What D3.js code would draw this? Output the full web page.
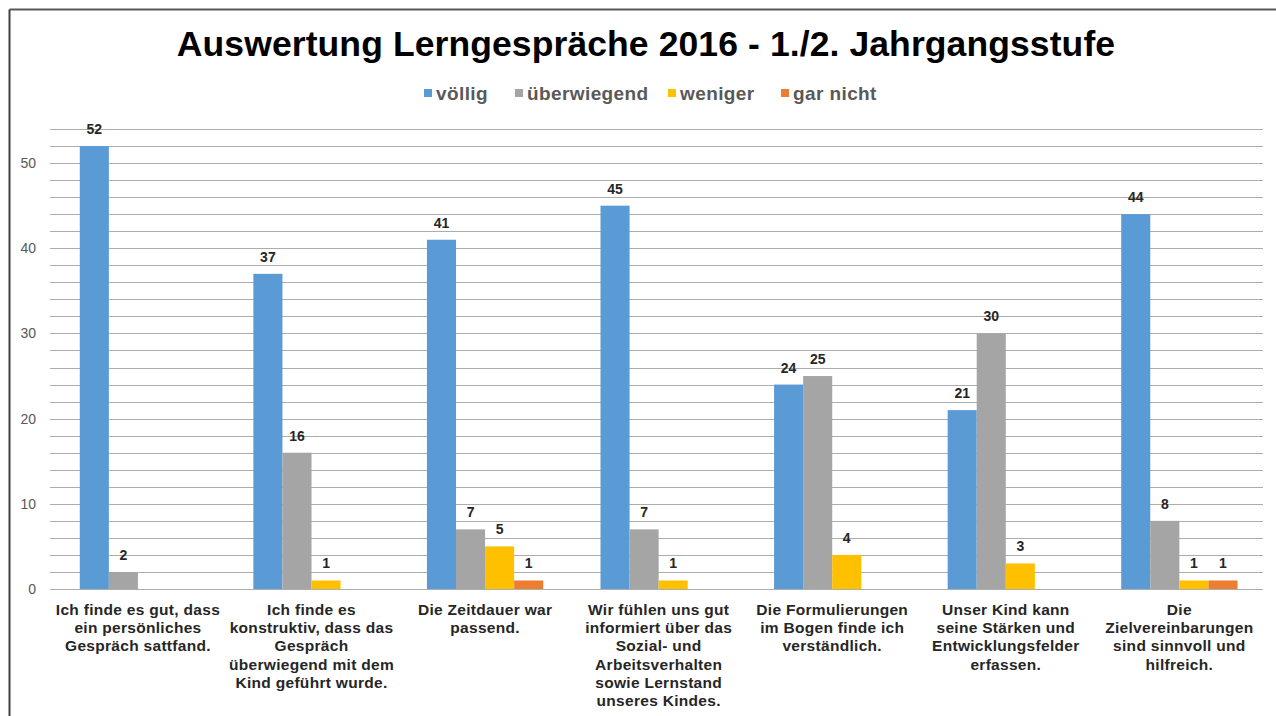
<!DOCTYPE html>
<html>
<head>
<meta charset="utf-8">
<style>
  body { margin: 0; background: #fff; }
  svg { display: block; font-family: Arial, "Liberation Sans", sans-serif; }
</style>
</head>
<body>
<div id="chart"></div>
<script src="https://cdn.jsdelivr.net/npm/d3@7"></script>
<script>
var categories = [
  ['Ich finde es gut, dass', 'ein persönliches', 'Gespräch sattfand.'],
  ['Ich finde es', 'konstruktiv, dass das', 'Gespräch', 'überwiegend mit dem', 'Kind geführt wurde.'],
  ['Die Zeitdauer war', 'passend.'],
  ['Wir fühlen uns gut', 'informiert über das', 'Sozial- und', 'Arbeitsverhalten', 'sowie Lernstand', 'unseres Kindes.'],
  ['Die Formulierungen', 'im Bogen finde ich', 'verständlich.'],
  ['Unser Kind kann', 'seine Stärken und', 'Entwicklungsfelder', 'erfassen.'],
  ['Die', 'Zielvereinbarungen', 'sind sinnvoll und', 'hilfreich.']
];
var series_names = ['völlig', 'überwiegend', 'weniger', 'gar nicht'];
var voellig     = [52, 37, 41, 45, 24, 21, 44];
var ueberwiegend = [2, 16, 7, 7, 25, 30, 8];
var weniger     = [0, 1, 5, 1, 4, 3, 1];
var gar_nicht   = [0, 0, 1, 0, 0, 0, 1];
var y_ticks = [0, 10, 20, 30, 40, 50];
var title_text = 'Auswertung Lerngespräche 2016 - 1./2. Jahrgangsstufe';

var colors = ['#5b9bd5', '#a5a5a5', '#ffc000', '#ed7d31'];
var all_series = [voellig, ueberwiegend, weniger, gar_nicht];

var width = 1276, height = 716;
var plot = {left: 50, right: 1263, top: 129, bottom: 589};

var svg = d3.select('#chart').append('svg')
    .attr('width', width)
    .attr('height', height);

// outer frame (only top and left visible)
svg.append('line').attr('x1', 9.5).attr('x2', width).attr('y1', 9.5).attr('y2', 9.5)
    .attr('stroke', '#595959').attr('stroke-width', 2);
svg.append('line').attr('x1', 9.5).attr('x2', 9.5).attr('y1', 9.5).attr('y2', height)
    .attr('stroke', '#404040').attr('stroke-width', 2);

svg.append('text')
    .attr('x', 646)
    .attr('y', 56)
    .attr('text-anchor', 'middle')
    .attr('font-size', 35.5)
    .attr('font-weight', 'bold')
    .attr('letter-spacing', 0.1)
    .attr('fill', '#000')
    .text(title_text);

var y_scale = d3.scaleLinear().domain([0, 54]).range([plot.bottom, plot.top]);
var x0 = d3.scaleBand().domain(d3.range(categories.length)).range([plot.left, plot.right + 2])
    .paddingInner(0.33).paddingOuter(0.165).align(0.52);
var x1 = d3.scaleBand().domain(d3.range(series_names.length)).range([0, x0.bandwidth()]);

// gridlines every 2 units
svg.append('g')
    .selectAll('line')
    .data(d3.range(0, 55, 2))
    .enter().append('line')
    .attr('x1', plot.left).attr('x2', plot.right)
    .attr('y1', function(d){ return Math.round(y_scale(d)) + 0.5; })
    .attr('y2', function(d){ return Math.round(y_scale(d)) + 0.5; })
    .attr('stroke', '#adadad')
    .attr('stroke-width', 1.2);

var y_axis = svg.append('g')
    .attr('transform', 'translate(' + plot.left + ',0)')
    .call(d3.axisLeft(y_scale).tickValues(y_ticks).tickSize(0).tickPadding(14));
y_axis.select('.domain').remove();
y_axis.selectAll('text')
    .attr('font-size', 14)
    .attr('font-family', 'Arial, "Liberation Sans", sans-serif')
    .attr('fill', '#595959');

// bars
var groups = svg.append('g').selectAll('g')
    .data(categories)
    .enter().append('g')
    .attr('transform', function(d, i){ return 'translate(' + x0(i) + ',0)'; });

groups.each(function(d, i){
    var g = d3.select(this);
    all_series.forEach(function(s, j){
        var v = s[i];
        if (v === 0) return;
        g.append('rect')
            .attr('x', x1(j))
            .attr('width', x1.bandwidth())
            .attr('y', y_scale(v))
            .attr('height', y_scale(0) - y_scale(v))
            .attr('fill', colors[j]);
        g.append('text')
            .attr('x', x1(j) + x1.bandwidth() / 2)
            .attr('y', y_scale(v) - 12)
            .attr('text-anchor', 'middle')
            .attr('font-size', 14)
            .attr('font-weight', 'bold')
            .attr('fill', '#262626')
            .text(v);
    });
    var lab = g.append('text')
        .attr('text-anchor', 'middle')
        .attr('font-size', 15.5)
        .attr('font-weight', 'bold')
        .attr('letter-spacing', 0.3)
        .attr('fill', '#262626');
    d.forEach(function(line, k){
        lab.append('tspan')
            .attr('x', x0.bandwidth() / 2)
            .attr('y', 615 + k * 18.2)
            .text(line);
    });
});

// legend
var legend = svg.append('g').attr('transform', 'translate(0,93)');
var lx = [424, 515, 668, 781];
series_names.forEach(function(name, j){
    legend.append('rect')
        .attr('x', lx[j]).attr('y', -4)
        .attr('width', 8).attr('height', 8)
        .attr('fill', colors[j]);
    legend.append('text')
        .attr('x', lx[j] + 12)
        .attr('y', 6.5)
        .attr('font-size', 19)
        .attr('font-weight', 'bold')
        .attr('letter-spacing', 0.4)
        .attr('fill', '#595959')
        .text(name);
});
</script>
</body>
</html>
